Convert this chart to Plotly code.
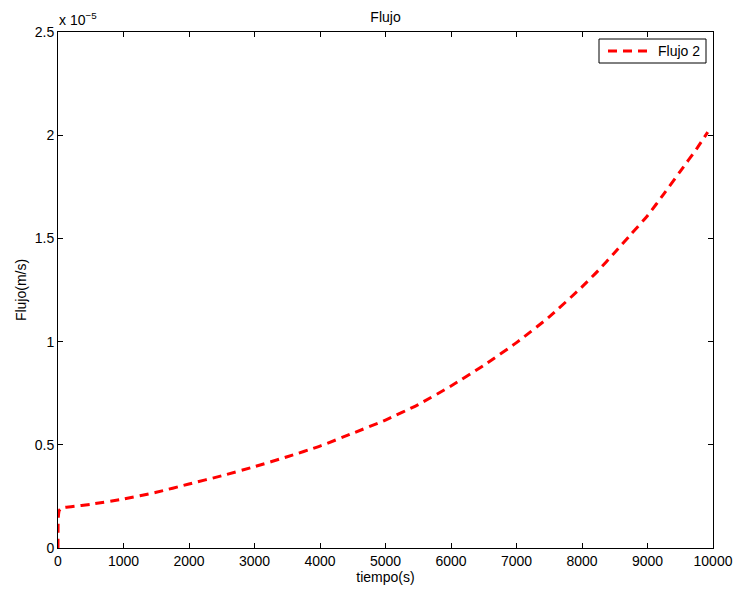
import plotly.graph_objects as go

# time (s)
tiempo = [0, 5, 20, 50, 100, 200, 500, 1000, 1500, 2000, 2500, 3000, 3500, 4000,
          4500, 5000, 5500, 6000, 6500, 7000, 7500, 8000, 8250, 8500, 8750, 9000,
          9250, 9500, 9750, 9920]
# Flujo 2 in units of 1e-5 m/s
flujo2 = [0, 0.15, 0.182, 0.192, 0.197, 0.200, 0.212, 0.237, 0.270, 0.310, 0.350,
          0.394, 0.442, 0.494, 0.556, 0.620, 0.695, 0.785, 0.885, 0.995, 1.120,
          1.265, 1.345, 1.432, 1.521, 1.610, 1.716, 1.825, 1.934, 2.015]

x_ticks = [0, 1000, 2000, 3000, 4000, 5000, 6000, 7000, 8000, 9000, 10000]
x_tick_labels = [str(v) for v in x_ticks]
y_ticks = [0, 0.5, 1, 1.5, 2, 2.5]
y_tick_labels = ["0", "0.5", "1", "1.5", "2", "2.5"]

FONT = "Liberation Sans, Arial, Helvetica, sans-serif"
FS = 14

# plot-area geometry in pixels (for the hand-drawn legend)
L, R, T, B = 58, 713, 32, 548
def px(xp):
    return (xp - L) / (R - L)
def py(yp):
    return (B - yp) / (B - T)

fig = go.Figure()
fig.add_trace(go.Scatter(
    x=tiempo, y=flujo2, mode="lines", name="Flujo 2", showlegend=False,
    line=dict(color="#ff0000", width=3, dash="9px,6px", shape="spline", smoothing=0.6),
))

axis_common = dict(
    showline=True, linecolor="black", linewidth=1, mirror="ticks",
    ticks="inside", ticklen=5, tickcolor="black", tickwidth=1,
    showgrid=False, zeroline=False, automargin=False,
    tickfont=dict(family=FONT, size=FS, color="black"),
)

fig.update_layout(
    width=736, height=592,
    margin=dict(l=L, r=736 - R, t=T, b=592 - B, autoexpand=False),
    paper_bgcolor="white", plot_bgcolor="white",
    font=dict(family=FONT, size=FS, color="black"),
    title=dict(text="Flujo", x=0.5238, xanchor="center", y=1 - 17 / 592, yanchor="middle",
               font=dict(family=FONT, size=FS, color="black")),
    xaxis=dict(range=[0, 10000], tickvals=x_ticks, ticktext=x_tick_labels,
               ticklabelstandoff=0,
               title=dict(text="tiempo(s)", standoff=0, font=dict(family=FONT, size=FS)),
               **axis_common),
    yaxis=dict(range=[0, 2.5], tickvals=y_ticks, ticktext=y_tick_labels,
               ticklabelstandoff=0,
               title=dict(text="Flujo(m/s)", standoff=4, font=dict(family=FONT, size=FS)),
               **axis_common),
    showlegend=False,
)

# legend box (hand-drawn to match the reference layout)
fig.add_shape(type="rect", xref="paper", yref="paper",
              x0=px(599), x1=px(706), y0=py(63), y1=py(39),
              line=dict(color="black", width=1), fillcolor="white", layer="above")
fig.add_shape(type="line", xref="paper", yref="paper",
              x0=px(608), x1=px(652), y0=py(51), y1=py(51),
              line=dict(color="#ff0000", width=3, dash="9px,6px"), layer="above")
fig.add_annotation(text="Flujo 2", xref="paper", yref="paper",
                   x=px(656), y=py(51), xanchor="left", yanchor="middle",
                   showarrow=False, font=dict(family=FONT, size=FS, color="black"))

fig.add_annotation(
    text="x 10<sup>\u22125</sup>", xref="paper", yref="paper",
    x=0, y=1, xanchor="left", yanchor="bottom", yshift=2, xshift=-1,
    showarrow=False, font=dict(family=FONT, size=FS, color="black"),
)

fig.write_html("out.html")
